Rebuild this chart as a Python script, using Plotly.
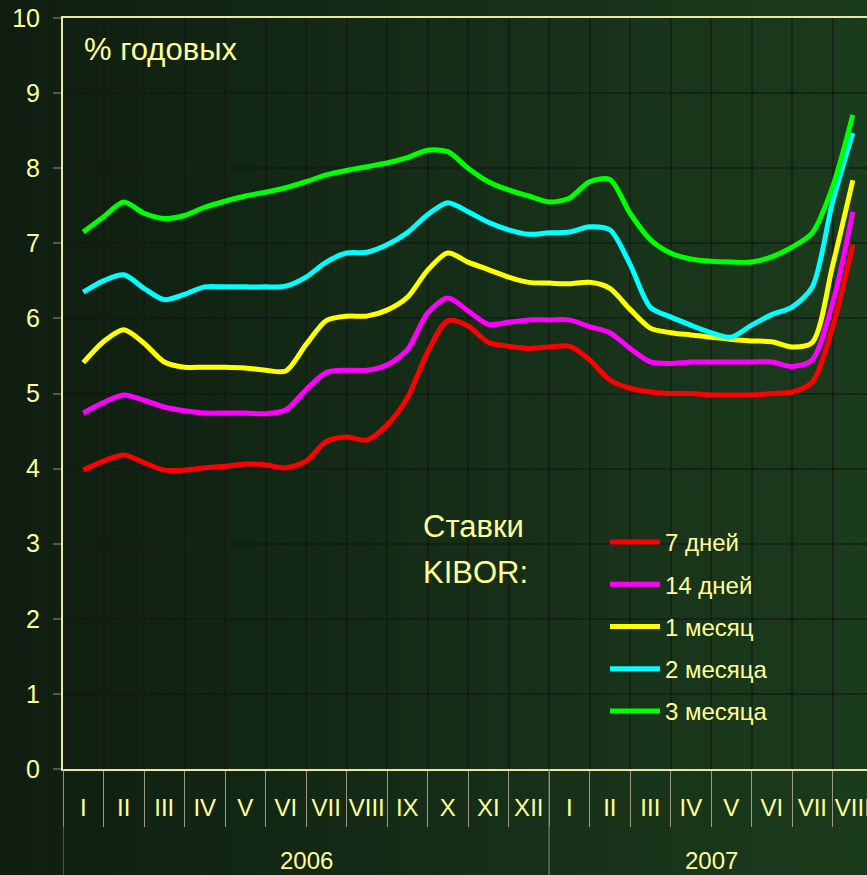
import plotly.graph_objects as go

# ---------------- data ----------------
month_labels = ["I", "II", "III", "IV", "V", "VI", "VII", "VIII", "IX", "X", "XI", "XII",
                "I", "II", "III", "IV", "V", "VI", "VII", "VIII"]
year_labels = ["2006", "2007"]
year_centers = [5.5, 15.5]
year_dividers = [-0.5, 11.5]

# sample positions (in months from Jan 2006, half-month steps)
x_pos = [0.0, 0.5, 1.0, 1.5, 2.0, 2.5, 3.0, 3.5, 4.0, 4.5, 5.0, 5.5, 6.0, 6.5, 7.0, 7.5,
         8.0, 8.5, 9.0, 9.5, 10.0, 10.5, 11.0, 11.5, 12.0, 12.5, 13.0, 13.5, 14.0, 14.5,
         15.0, 15.5, 16.0, 16.5, 17.0, 17.5, 18.0, 18.5, 19.0]

kibor_7d = [3.98, 4.10, 4.18, 4.08, 3.98, 3.98, 4.01, 4.03, 4.06, 4.05, 4.01, 4.10, 4.36,
            4.42, 4.38, 4.58, 4.94, 5.55, 5.97, 5.90, 5.68, 5.63, 5.60, 5.62, 5.63, 5.45,
            5.18, 5.07, 5.02, 5.00, 5.00, 4.98, 4.98, 4.98, 5.00, 5.02, 5.15, 5.88, 6.98]
kibor_14d = [4.74, 4.88, 4.98, 4.91, 4.82, 4.77, 4.74, 4.74, 4.74, 4.73, 4.78, 5.05, 5.28,
             5.31, 5.31, 5.38, 5.58, 6.07, 6.27, 6.10, 5.92, 5.95, 5.98, 5.98, 5.98, 5.89,
             5.81, 5.60, 5.42, 5.40, 5.42, 5.42, 5.42, 5.42, 5.42, 5.36, 5.45, 6.20, 7.42]
kibor_1m = [5.41, 5.69, 5.85, 5.67, 5.42, 5.35, 5.35, 5.35, 5.34, 5.31, 5.30, 5.65, 5.97,
            6.03, 6.03, 6.11, 6.28, 6.64, 6.87, 6.75, 6.65, 6.55, 6.48, 6.47, 6.46, 6.48,
            6.40, 6.12, 5.87, 5.81, 5.78, 5.75, 5.72, 5.70, 5.69, 5.62, 5.68, 6.70, 7.84]
kibor_2m = [6.35, 6.50, 6.58, 6.40, 6.25, 6.32, 6.42, 6.42, 6.42, 6.42, 6.43, 6.55, 6.75,
            6.87, 6.88, 6.98, 7.14, 7.38, 7.54, 7.42, 7.28, 7.18, 7.12, 7.14, 7.15, 7.22,
            7.18, 6.72, 6.15, 6.02, 5.91, 5.81, 5.75, 5.91, 6.05, 6.15, 6.42, 7.55, 8.47]
kibor_3m = [7.15, 7.35, 7.55, 7.40, 7.33, 7.37, 7.48, 7.56, 7.63, 7.68, 7.74, 7.82, 7.91,
            7.97, 8.02, 8.07, 8.14, 8.24, 8.22, 8.00, 7.82, 7.71, 7.63, 7.55, 7.60, 7.82,
            7.85, 7.40, 7.05, 6.87, 6.79, 6.76, 6.75, 6.75, 6.82, 6.95, 7.14, 7.75, 8.71]

series_names = ["7 дней", "14 дней", "1 месяц", "2 месяца", "3 месяца"]
series_values = [kibor_7d, kibor_14d, kibor_1m, kibor_2m, kibor_3m]
series_colors = ["#FF0000", "#FF00FF", "#FFFF00", "#00FFFF", "#00FF00"]

y_ticks = [0, 1, 2, 3, 4, 5, 6, 7, 8, 9, 10]

# ---------------- styling ----------------
TXT = "#FFFF99"
FONT = "Liberation Sans, Arial, sans-serif"

fig = go.Figure()
for i, (name, vals, col) in enumerate(zip(series_names, series_values, series_colors)):
    fig.add_trace(go.Scatter(
        x=x_pos, y=vals, mode="lines", name=name,
        line=dict(color=col, width=5, shape="spline", smoothing=0.8),
        legendgroup=f"g{i}",
    ))

# background gradient stripes (left dark -> right lighter green)
shapes = []
n = 60
x0p, x1p = -0.08, 1.0
y0p, y1p = -0.15, 1.03
c0 = (15, 30, 17)
c1 = (27, 59, 29)
for k in range(n):
    t = k / (n - 1)
    col = tuple(int(round(c0[j] + (c1[j] - c0[j]) * t)) for j in range(3))
    shapes.append(dict(type="rect", xref="paper", yref="paper",
                       x0=x0p + (x1p - x0p) * k / n - 0.001,
                       x1=x0p + (x1p - x0p) * (k + 1) / n + 0.001,
                       y0=y0p, y1=y1p, line=dict(width=0),
                       fillcolor="rgb(%d,%d,%d)" % col, layer="below"))

# year divider lines below the axis
for xd in year_dividers:
    shapes.append(dict(type="line", xref="x", yref="paper", x0=xd, x1=xd,
                       y0=0, y1=-0.15, line=dict(color="#8a8a70", width=1)))

annotations = [
    dict(text="% годовых", xref="paper", yref="paper", x=(82 - 63) / 804, y=(769 - 50) / 751,
         xanchor="left", yanchor="middle", showarrow=False,
         font=dict(size=31, color=TXT, family=FONT)),
    dict(text="Ставки", xref="paper", yref="paper", x=(421 - 63) / 804,
         y=(769 - 526) / 751, xanchor="left", yanchor="middle", showarrow=False,
         font=dict(size=31, color=TXT, family=FONT)),
    dict(text="KIBOR:", xref="paper", yref="paper", x=(421 - 63) / 804,
         y=(769 - 572) / 751, xanchor="left", yanchor="middle", showarrow=False,
         font=dict(size=31, color=TXT, family=FONT)),
]
for yl, yc in zip(year_labels, year_centers):
    annotations.append(dict(text=yl, xref="x", yref="paper", x=yc, y=-(860 - 769) / 751,
                            xanchor="center", yanchor="middle", showarrow=False,
                            font=dict(size=24, color=TXT, family=FONT)))

fig.update_layout(
    width=867, height=875,
    margin=dict(l=63, r=0, t=18, b=106, autoexpand=False),
    paper_bgcolor="#12241a",
    plot_bgcolor="rgba(0,0,0,0)",
    font=dict(family=FONT, color=TXT, size=24),
    shapes=shapes,
    annotations=annotations,
    showlegend=True,
    legend=dict(x=(605 - 63) / 804, y=(769 - 520) / 751, xanchor="left", yanchor="top",
                bgcolor="rgba(0,0,0,0)", font=dict(size=24, color=TXT, family=FONT),
                traceorder="grouped", tracegroupgap=8, itemwidth=50),
    xaxis=dict(
        range=[-0.5, 19.35], automargin=False,
        tickmode="array", tickvals=list(range(20)), ticktext=month_labels,
        ticks="outside", ticklen=16, tickcolor="rgba(0,0,0,0)",
        ticklabeloverflow="allow",
        tickfont=dict(size=24, color=TXT, family=FONT),
        showgrid=False, zeroline=False,
        showline=True, linecolor="#E8E8A0", linewidth=2, mirror=True,
        minor=dict(tickmode="array", tickvals=[v - 0.5 for v in range(21)],
                   ticks="outside", ticklen=56, tickcolor="#9a9a80", tickwidth=1,
                   showgrid=True, gridcolor="rgba(20,20,20,0.55)", gridwidth=2),
    ),
    yaxis=dict(
        range=[0, 10], tickmode="array", tickvals=y_ticks, automargin=False,
        ticks="outside", ticklen=8, tickcolor="#555550", tickwidth=2,
        ticklabelstandoff=8,
        tickfont=dict(size=25, color=TXT, family=FONT),
        showgrid=True, gridcolor="rgba(20,20,20,0.55)", gridwidth=2,
        zeroline=False, showline=True, linecolor="#E8E8A0", linewidth=2,
    ),
)

fig.write_html("out.html")
